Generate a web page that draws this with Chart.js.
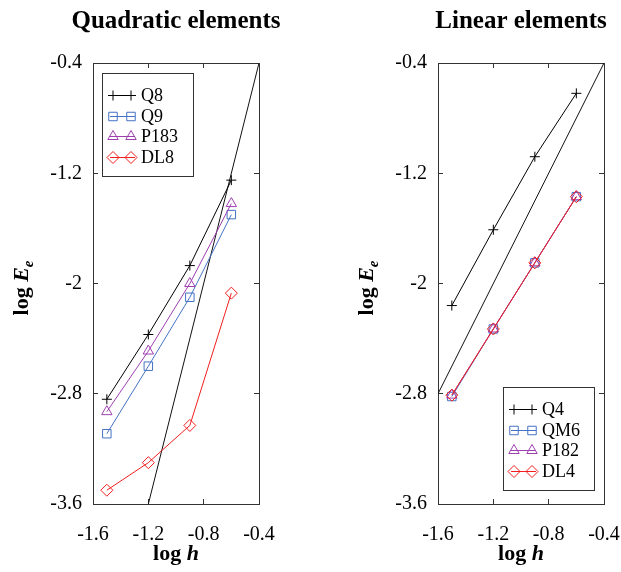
<!DOCTYPE html>
<html>
<head>
<meta charset="utf-8">
<script src="https://cdn.jsdelivr.net/npm/chart.js@4/dist/chart.umd.min.js"></script>
<style>
  body { margin: 0; background: #fff; width: 621px; height: 572px; position: relative; overflow: hidden; }
  canvas { position: absolute; top: 0; }
</style>
</head>
<body>
<canvas id="chartQuad" width="340" height="572" style="left:0px"></canvas>
<canvas id="chartLin" width="276" height="572" style="left:345px"></canvas>
<script>
// Datos (log h en x, log Ee en y)
const logH = [-1.5, -1.2, -0.9, -0.6]

const quadQ8 = [-2.84, -2.37, -1.87, -1.25]
const quadQ9 = [-3.09, -2.60, -2.10, -1.50]
const quadP183 = [-2.93, -2.49, -2.00, -1.42]
const quadDL8 = [-3.50, -3.30, -3.03, -2.07]

const linQ4 = [-2.16, -1.61, -1.08, -0.62]
const linQM6 = [-2.82, -2.33, -1.85, -1.37]
const linP182 = [-2.81, -2.33, -1.85, -1.37]
const linDL4 = [-2.81, -2.33, -1.85, -1.37]

// Rectas de referencia (pendiente 4 y pendiente 2)
const refQuadX = [-1.2, -0.4]
const refQuadY = [-3.6, -0.4]
const refLinX = [-1.6, -0.4]
const refLinY = [-2.8, -0.4]

// Ticks
const xTicks = [-1.6, -1.2, -0.8, -0.4]
const xTickLabels = ['-1.6', '-1.2', '-0.8', '-0.4']
const yTicks = [-3.6, -2.8, -2, -1.2, -0.4]
const yTickLabels = ['-3.6', '-2.8', '-2', '-1.2', '-0.4']

const SERIF = "'Liberation Serif', 'Times New Roman', serif"
const AXIS = '#333'

function toPoints(xs, ys) {
    return xs.map((x, i) => ({ x, y: ys[i] }))
}

function series(label, ys, color, pointStyle, radius, order) {
    return {
        label,
        data: toPoints(logH, ys),
        order,
        showLine: true,
        borderColor: color,
        backgroundColor: 'rgba(0,0,0,0)',
        borderWidth: 1,
        pointStyle,
        pointRadius: radius,
        pointBorderColor: color,
        pointBorderWidth: 1,
        pointBackgroundColor: 'rgba(0,0,0,0)'
    }
}

function refLine(xs, ys) {
    return {
        label: '',
        data: toPoints(xs, ys),
        order: 5,
        showLine: true,
        borderColor: '#111',
        borderWidth: 1,
        pointRadius: 0,
        isRef: true
    }
}

// Título del panel y títulos de ejes con cursiva y subíndice
const richTitles = {
    id: 'richTitles',
    afterDraw(chart, args, opts) {
        const { ctx, chartArea } = chart
        const big = "bold 22px " + SERIF
        const bigIt = "italic bold 22px " + SERIF
        const small = "italic bold 15px " + SERIF
        const cx = (chartArea.left + chartArea.right) / 2
        ctx.save()
        ctx.fillStyle = '#000'

        // título del panel
        ctx.font = "bold 25px " + SERIF
        ctx.textAlign = 'center'
        ctx.textBaseline = 'alphabetic'
        ctx.fillText(opts.text, cx, 28)
        ctx.textAlign = 'left'

        // eje x: log h
        ctx.font = big
        const w1 = ctx.measureText('log ').width
        ctx.font = bigIt
        const w2 = ctx.measureText('h').width
        let x = cx - (w1 + w2) / 2
        const yb = 560
        ctx.font = big
        ctx.fillText('log ', x, yb)
        ctx.font = bigIt
        ctx.fillText('h', x + w1, yb)

        // eje y: log Ee
        ctx.translate(28, 288)
        ctx.rotate(-Math.PI / 2)
        ctx.font = big
        const a = ctx.measureText('log ').width
        ctx.font = bigIt
        const b = ctx.measureText('E').width
        ctx.font = small
        const c = ctx.measureText('e').width
        x = -(a + b + c) / 2
        ctx.font = big
        ctx.fillText('log ', x, 0)
        ctx.font = bigIt
        ctx.fillText('E', x + a, 0)
        ctx.font = small
        ctx.fillText('e', x + a + b, 5)
        ctx.restore()
    }
}

// Leyenda con recuadro dentro del área del gráfico
const boxLegend = {
    id: 'boxLegend',
    afterDatasetsDraw(chart, args, opts) {
        const { ctx, chartArea } = chart
        const w = 91, h = 103
        let bx, by
        if (opts.corner === 'bottomRight') {
            bx = chartArea.right - 10 - w
            by = chartArea.bottom - 14 - h
        } else {
            bx = chartArea.left + 9
            by = chartArea.top + 10
        }
        ctx.save()
        ctx.fillStyle = '#fff'
        ctx.fillRect(bx, by, w, h)
        ctx.strokeStyle = AXIS
        ctx.lineWidth = 1
        ctx.strokeRect(Math.round(bx) + 0.5, Math.round(by) + 0.5, w, h)

        const items = chart.data.datasets.filter(d => !d.isRef)
        items.forEach((d, i) => {
            const y = Math.round(by + 22 + i * 20.5) + 0.5
            ctx.strokeStyle = d.borderColor
            ctx.lineWidth = 1
            ctx.beginPath()
            ctx.moveTo(bx + 8, y)
            ctx.lineTo(bx + 33, y)
            ctx.stroke()
            const style = {
                pointStyle: d.pointStyle,
                radius: d.pointRadius,
                borderWidth: 1,
                rotation: 0
            }
            ctx.fillStyle = 'rgba(0,0,0,0)'
            Chart.helpers.drawPoint(ctx, style, bx + 11, y)
            Chart.helpers.drawPoint(ctx, style, bx + 29, y)
            ctx.fillStyle = '#000'
            ctx.font = '18px ' + SERIF
            ctx.textBaseline = 'middle'
            ctx.fillText(d.label, bx + 39, y + 1)
        })
        ctx.restore()
    }
}

function makeChart(id, titleText, datasets, corner, padRight) {
    const edgeAxis = (position, ticks) => ({
        type: 'linear',
        position,
        min: ticks[0],
        max: ticks[ticks.length - 1],
        afterBuildTicks: s => { s.ticks = ticks.map(v => ({ value: v })) },
        ticks: { display: false },
        grid: { drawOnChartArea: false, tickLength: -5, color: AXIS },
        border: { color: AXIS, width: 1 },
        afterFit: s => { if (s.isHorizontal()) s.height = 0; else s.width = 0 }
    })

    return new Chart(id, {
        type: 'scatter',
        data: { datasets },
        options: {
            responsive: false,
            animation: false,
            devicePixelRatio: 1,
            layout: { padding: { left: 0, right: padRight, top: 63, bottom: 0 } },
            plugins: {
                legend: { display: false },
                tooltip: { enabled: false },
                title: { display: false },
                richTitles: { text: titleText },
                boxLegend: { corner }
            },
            scales: {
                x: {
                    type: 'linear',
                    position: 'bottom',
                    min: xTicks[0],
                    max: xTicks[xTicks.length - 1],
                    afterBuildTicks: s => { s.ticks = xTicks.map(v => ({ value: v })) },
                    ticks: {
                        color: '#000',
                        // el lineHeight grande baja las etiquetas sin ensanchar el margen derecho
                        font: { family: SERIF, size: 20, lineHeight: 3.6 },
                        padding: 0,
                        maxRotation: 0,
                        autoSkip: false,
                        callback: (v, i) => xTickLabels[i]
                    },
                    grid: { drawOnChartArea: false, tickLength: -5, color: AXIS },
                    border: { color: AXIS, width: 1 },
                    afterFit: s => { s.height = 68 }
                },
                y: {
                    type: 'linear',
                    position: 'left',
                    min: yTicks[0],
                    max: yTicks[yTicks.length - 1],
                    afterBuildTicks: s => { s.ticks = yTicks.map(v => ({ value: v })) },
                    ticks: {
                        color: '#000',
                        font: { family: SERIF, size: 20 },
                        padding: 16,
                        autoSkip: false,
                        callback: (v, i) => yTickLabels[i]
                    },
                    grid: { drawOnChartArea: false, tickLength: -5, color: AXIS },
                    border: { color: AXIS, width: 1 },
                    afterFit: s => { s.width = 93 }
                },
                x2: edgeAxis('top', xTicks),
                y2: edgeAxis('right', yTicks)
            }
        },
        plugins: [richTitles, boxLegend]
    })
}

const BLUE = '#4472C4'
const PURPLE = '#9E3FB0'
const RED = '#F21E1E'

makeChart('chartQuad', 'Quadratic elements', [
    series('Q8', quadQ8, '#000', 'cross', 5, 4),
    series('Q9', quadQ9, BLUE, 'rect', 6, 3),
    series('P183', quadP183, PURPLE, 'triangle', 6, 2),
    series('DL8', quadDL8, RED, 'rectRot', 6, 1),
    refLine(refQuadX, refQuadY)
], 'topLeft', 81)

makeChart('chartLin', 'Linear elements', [
    series('Q4', linQ4, '#000', 'cross', 5, 4),
    series('QM6', linQM6, BLUE, 'rect', 6, 3),
    series('P182', linP182, PURPLE, 'triangle', 6, 2),
    series('DL4', linDL4, RED, 'rectRot', 6, 1),
    refLine(refLinX, refLinY)
], 'bottomRight', 17)
</script>
</body>
</html>
